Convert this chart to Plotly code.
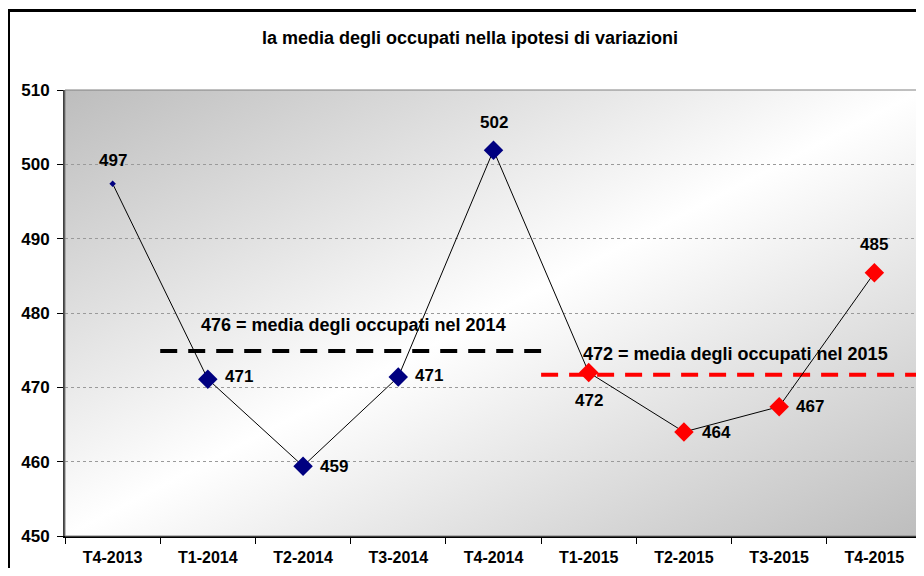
import base64
import plotly.graph_objects as go

# ---- data ----
categories = ["T4-2013", "T1-2014", "T2-2014", "T3-2014", "T4-2014",
              "T1-2015", "T2-2015", "T3-2015", "T4-2015"]
values = [497.4, 471.1, 459.4, 471.4, 501.9, 472.0, 464.0, 467.4, 485.4]
value_labels = ["497", "471", "459", "471", "502", "472", "464", "467", "485"]
mean_2014 = 474.9
mean_2014_label = "476 = media degli occupati nel 2014"
mean_2015 = 471.7
mean_2015_label = "472 = media degli occupati nel 2015"
title_text = "la media degli occupati nella ipotesi di variazioni"
y_ticks = [450, 460, 470, 480, 490, 500, 510]

idx = list(range(len(categories)))
FONT = "Liberation Sans, Arial, sans-serif"

# marker styling per point
colors = ["#000080"] * 5 + ["#FF0000"] * 4
sizes = [5] + [15] * 8
# label placement: (xshift, yshift, xanchor)
label_pos = [(0, 23, "center"), (15, 3, "left"), (15, 0, "left"), (15, 1, "left"),
             (0, 28, "center"), (0, -28, "center"), (16, -1, "left"), (15, 0, "left"),
             (0, 28, "center")]

W, H = 916, 560
L, R, T, B = 57, 2, 82, 32

fig = go.Figure()

# background gradient image (diagonal)
svg = ('<svg xmlns="http://www.w3.org/2000/svg" width="100" height="100" '
       'viewBox="0 0 100 100" preserveAspectRatio="none">'
       '<defs><linearGradient id="g" x1="0" y1="0" x2="1" y2="1">'
       '<stop offset="0" stop-color="#bdbdbd"/>'
       '<stop offset="0.5" stop-color="#ffffff"/>'
       '<stop offset="1" stop-color="#bdbdbd"/>'
       '</linearGradient></defs>'
       '<rect x="0" y="0" width="100" height="100" fill="url(#g)"/></svg>')
src = "data:image/svg+xml;base64," + base64.b64encode(svg.encode()).decode()
fig.add_layout_image(dict(source=src, xref="paper", yref="paper", x=0, y=1,
                          sizex=1, sizey=1, sizing="stretch", layer="below",
                          xanchor="left", yanchor="top"))

# mean lines
fig.add_trace(go.Scatter(x=[0.5, 4.5], y=[mean_2014, mean_2014], mode="lines",
                         line=dict(color="black", width=4, dash="17px,11px"),
                         hoverinfo="skip", showlegend=False))
fig.add_trace(go.Scatter(x=[4.5, 8.5], y=[mean_2015, mean_2015], mode="lines",
                         line=dict(color="#FF0000", width=4, dash="17px,11px"),
                         hoverinfo="skip", showlegend=False))

# main series
fig.add_trace(go.Scatter(
    x=idx, y=values, mode="lines+markers",
    line=dict(color="black", width=1),
    marker=dict(symbol="diamond", size=sizes, color=colors, opacity=1, line=dict(width=0)),
    showlegend=False))

for i, lab in enumerate(value_labels):
    xs, ys, xa = label_pos[i]
    fig.add_annotation(x=idx[i], y=values[i], text=lab, showarrow=False,
                       xanchor=xa, yanchor="middle", xshift=xs, yshift=ys,
                       font=dict(family=FONT, size=17, color="black", weight="bold"))

fig.add_annotation(x=2.5, y=mean_2014, text=mean_2014_label, showarrow=False,
                   xshift=3, yshift=26, font=dict(family=FONT, size=18, color="black", weight="bold"))
fig.add_annotation(x=6.5, y=mean_2015, text=mean_2015_label, showarrow=False,
                   xshift=4, yshift=21, font=dict(family=FONT, size=18, color="black", weight="bold"))

# outer frame (partially cut off like the reference)
pw, ph = W - L - R, H - T - B
def px(x):
    return (x - L) / pw
def py(y):
    return (H - B - y) / ph
fig.add_shape(type="rect", xref="paper", yref="paper",
              x0=px(0.5), x1=px(940), y0=py(2.5), y1=py(620),
              line=dict(color="black", width=3), layer="above")

fig.update_layout(
    width=W, height=H,
    margin=dict(l=L, r=R, t=T, b=B, autoexpand=False),
    paper_bgcolor="white", plot_bgcolor="rgba(0,0,0,0)",
    title=dict(text=title_text, x=462 / W, xref="container", xanchor="center",
               y=1 - 30 / H, yref="container", yanchor="middle",
               font=dict(family=FONT, size=18, color="black", weight="bold")),
    font=dict(family=FONT, color="black"),
)
fig.update_xaxes(range=[-0.5, 8.5], tickmode="array", tickvals=idx, ticktext=categories,
                 ticks="", showgrid=False, zeroline=False, ticklabelstandoff=6,
                 showline=True, linecolor="black", linewidth=1.5, mirror=False,
                 tickfont=dict(family=FONT, size=16, color="black", weight="bold"),
                 minor=dict(tickmode="array", tickvals=[i + 0.5 for i in range(-1, 9)],
                            ticks="outside", ticklen=6, tickcolor="black", tickwidth=1, showgrid=False))
fig.update_yaxes(range=[450, 510], tickmode="array", tickvals=y_ticks,
                 ticks="outside", ticklen=6, tickcolor="black", ticklabelstandoff=4,
                 showgrid=True, gridcolor="#9a9a9a", gridwidth=1, griddash="dot",
                 zeroline=False, showline=True, linecolor="#404040", linewidth=2,
                 tickfont=dict(family=FONT, size=17, color="black", weight="bold"))
# plot area border
fig.add_shape(type="rect", xref="paper", yref="paper", x0=0, x1=1, y0=0, y1=1,
              line=dict(color="#808080", width=1), layer="above")

fig.write_html("out.html")
